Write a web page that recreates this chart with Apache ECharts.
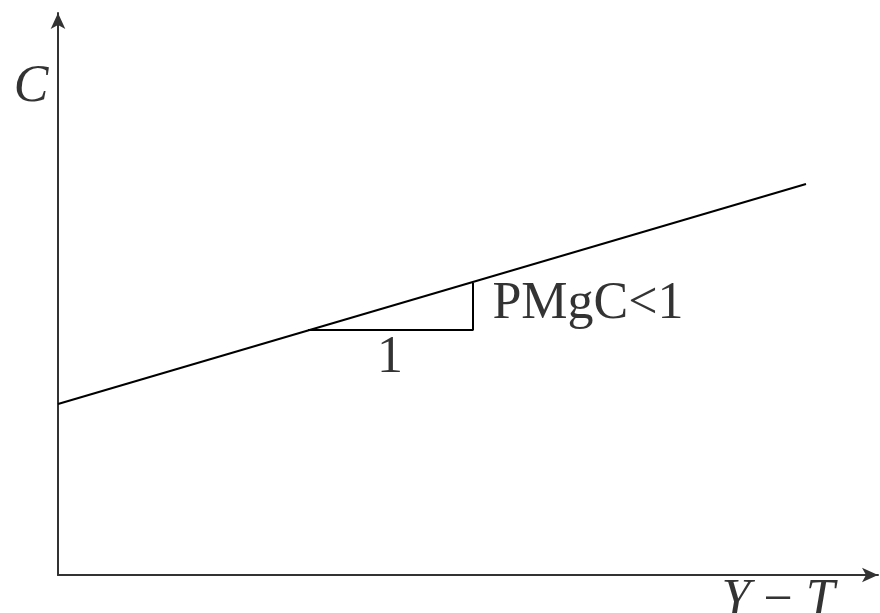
<!DOCTYPE html>
<html lang="en">
<head>
    <meta charset="utf-8" />
    <title>C vs Y-T</title>
    <style>
        html, body, #myChart {
            width: 100%;
            height: 100%;
            margin: 0;
            padding: 0;
            overflow: hidden;
            background: #fff;
        }
    </style>
</head>
<body>
    <div id="myChart"></div>
    <script src="https://cdn.jsdelivr.net/npm/echarts@6/dist/echarts.min.js"></script>
    <script>
        // consumption line (x = Y-T, y = C)
        var lineX = [0, 748];
        var lineY = [171, 391];
        // slope triangle under the line
        var triX = [250, 415, 415];
        var triY = [245, 245, 292];
        // text annotations: [x, y, text]
        var labelX = [332, 530, -27, 720];
        var labelY = [217, 271, 488, -26];
        var labelText = ['1', 'PMgC<1', '{i|C}', '{i|Y} − {i|T}'];

        var serif = 'Liberation Serif';
        var myChart = echarts.init(document.getElementById('myChart'));
        var option = {
            animation: false,
            grid: {
                left: 58,
                right: 2,
                top: 13,
                bottom: 38
            },
            xAxis: {
                type: 'value',
                min: 0,
                max: 820,
                splitLine: { show: false },
                axisTick: { show: false },
                axisLabel: { show: false },
                axisLine: {
                    symbol: ['none', 'arrow'],
                    symbolSize: [11, 16],
                    lineStyle: { color: '#333', width: 2 }
                }
            },
            yAxis: {
                type: 'value',
                min: 0,
                max: 562,
                splitLine: { show: false },
                axisTick: { show: false },
                axisLabel: { show: false },
                axisLine: {
                    symbol: ['none', 'arrow'],
                    symbolSize: [11, 16],
                    lineStyle: { color: '#333', width: 2 }
                }
            },
            series: [{
                type: 'line',
                data: lineX.map(function (x, i) { return [x, lineY[i]]; }),
                symbol: 'none',
                lineStyle: { color: '#000', width: 2 }
            }, {
                type: 'line',
                data: triX.map(function (x, i) { return [x, triY[i]]; }),
                symbol: 'none',
                lineStyle: { color: '#000', width: 2 }
            }, {
                type: 'scatter',
                clip: false,
                symbolSize: 0,
                data: labelX.map(function (x, i) { return [x, labelY[i], labelText[i]]; }),
                label: {
                    show: true,
                    position: 'inside',
                    formatter: function (p) { return p.data[2]; },
                    fontFamily: serif,
                    fontSize: 52,
                    color: '#000',
                    rich: {
                        i: { fontFamily: serif, fontSize: 52, fontStyle: 'italic', color: '#000' }
                    }
                }
            }]
        };
        myChart.setOption(option);
    </script>
</body>
</html>
